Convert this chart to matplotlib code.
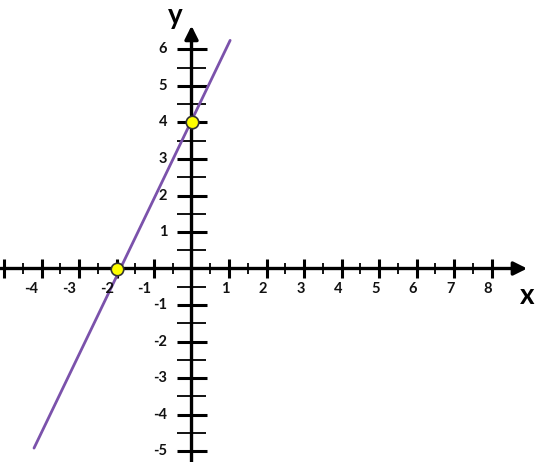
import numpy as np
import matplotlib.pyplot as plt

# line end points and the two intercepts marked on it
line_x = [-4.2, 1.03]
line_y = [-4.92, 6.25]
pts_x = [-2, 0]
pts_y = [0, 4]

x_major = [-5, -4, -3, -2, -1, 1, 2, 3, 4, 5, 6, 7, 8]
x_minor = [-4.5, -3.5, -2.5, -1.5, -0.5, 0.5, 1.5, 2.5, 3.5, 4.5, 5.5, 6.5, 7.5]
x_labels = ['-4', '-3', '-2', '-1', '1', '2', '3', '4', '5', '6', '7', '8']
x_label_pos = [-4, -3, -2, -1, 1, 2, 3, 4, 5, 6, 7, 8]

y_major = [-5, -4, -3, -2, -1, 1, 2, 3, 4, 5, 6]
y_minor = [-4.5, -3.5, -2.5, -1.5, -0.5, 0.5, 1.5, 2.5, 3.5, 4.5, 5.5]
y_labels = ['-5', '-4', '-3', '-2', '-1', '1', '2', '3', '4', '5', '6']

fig = plt.figure(figsize=(5.4, 4.62), dpi=100)
ax = fig.add_axes([0, 0, 1, 1])
ax.set_xlim(-5.107, 9.293)
ax.set_ylim(-5.301, 7.356)
ax.axis('off')

font = dict(family='Lato', weight='bold', fontsize=10.5, color='#111111')

# axes with arrow heads
ax.annotate('', xy=(8.95, 0), xytext=(-5.2, 0),
            arrowprops=dict(arrowstyle='-|>', lw=2.4, color='black', mutation_scale=20, shrinkA=0, shrinkB=0))
ax.annotate('', xy=(0, 6.65), xytext=(0, -5.4),
            arrowprops=dict(arrowstyle='-|>', lw=2.4, color='black', mutation_scale=20, shrinkA=0, shrinkB=0))

# x ticks
ax.vlines(x_major, -0.25, 0.25, color='black', lw=2.2)
ax.vlines(x_minor, -0.14, 0.14, color='black', lw=1.3)
# y ticks
ax.hlines(y_major, -0.38, 0.42, color='black', lw=2.2)
ax.hlines(y_minor, -0.38, 0.38, color='black', lw=1.3)

for xv, lab in zip(x_label_pos, x_labels):
    off = -0.08 if xv < 0 else 0.02
    ax.text(xv + off, -0.57, lab, ha='right', va='center', **font)
for yv, lab in zip(y_major, y_labels):
    ax.text(-0.65, yv, lab, ha='right', va='center', **font)

ax.text(8.95, -0.75, 'x', ha='center', va='center', family='Lato', weight='bold', fontsize=20)
ax.text(-0.44, 6.92, 'y', ha='center', va='center', family='Lato', weight='bold', fontsize=20)

ax.plot(line_x, line_y, color='#7b52ab', lw=2.0, solid_capstyle='round')
ax.plot(pts_x, pts_y, 'o', ms=9, mfc='#ffff00', mec='#333333', mew=1.2, zorder=5)

fig.savefig('out.png', dpi=100)
